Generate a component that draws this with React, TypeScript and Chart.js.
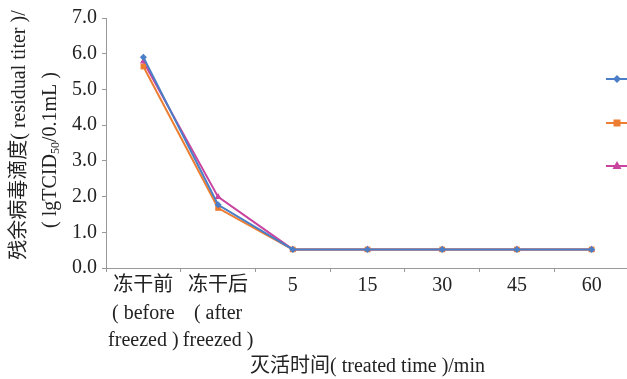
import React, { useEffect, useRef } from "react";
import { Chart, registerables } from "chart.js";

Chart.register(...registerables);

const categories: (string | string[])[] = [
  ["冻干前", "( before", "freezed )"],
  ["冻干后", "( after", "freezed )"],
  "5",
  "15",
  "30",
  "45",
  "60",
];
const seriesBlue = [5.9, 1.77, 0.52, 0.52, 0.52, 0.52, 0.52];
const seriesOrange = [5.64, 1.68, 0.52, 0.52, 0.52, 0.52, 0.52];
const seriesPink = [5.78, 1.99, 0.52, 0.52, 0.52, 0.52, 0.52];
const yTicks = [0, 1, 2, 3, 4, 5, 6, 7];

const BLUE = "#4A7EC6";
const ORANGE = "#ED7D31";
const PINK = "#C9449F";
const SERIF = "'Liberation Serif', 'Noto Sans CJK SC', serif";
const FS = 20;

const yTitlePlugin = {
  id: "yTitle",
  afterDraw(chart: any) {
    const ctx = chart.ctx;
    const ca = chart.chartArea;
    const midY = (ca.top + ca.bottom) / 2;
    ctx.save();
    ctx.fillStyle = "#222";
    ctx.textBaseline = "middle";
    // line 1
    ctx.save();
    ctx.translate(20, midY - 8);
    ctx.rotate(-Math.PI / 2);
    ctx.font = `${FS}px ${SERIF}`;
    ctx.textAlign = "center";
    ctx.fillText("残余病毒滴度( residual titer )/", 0, 0);
    ctx.restore();
    // line 2 with subscript
    ctx.save();
    ctx.translate(51, midY + 7);
    ctx.rotate(-Math.PI / 2);
    ctx.textAlign = "left";
    const a = "( lgTCID";
    const sub = "50";
    const b = "/0.1mL )";
    ctx.font = `${FS}px ${SERIF}`;
    const wa = ctx.measureText(a).width;
    const wb = ctx.measureText(b).width;
    ctx.font = `12px ${SERIF}`;
    const ws = ctx.measureText(sub).width;
    const total = wa + ws + wb;
    let x = -total / 2;
    ctx.font = `${FS}px ${SERIF}`;
    ctx.fillText(a, x, 0);
    x += wa;
    ctx.font = `12px ${SERIF}`;
    ctx.fillText(sub, x, 5);
    x += ws;
    ctx.font = `${FS}px ${SERIF}`;
    ctx.fillText(b, x, 0);
    ctx.restore();
    ctx.restore();
  },
};

const legendPlugin = {
  id: "sideLegend",
  afterDraw(chart: any) {
    const ctx = chart.ctx;
    const ca = chart.chartArea;
    const cx = ca.right - 12;
    const ys = [ca.top + 61, ca.top + 105, ca.top + 148];
    chart.data.datasets.forEach((ds: any, i: number) => {
      const y = ys[i];
      ctx.save();
      ctx.strokeStyle = ds.borderColor;
      ctx.lineWidth = 2;
      ctx.beginPath();
      ctx.moveTo(cx - 11, y);
      ctx.lineTo(cx + 12, y);
      ctx.stroke();
      ctx.fillStyle = ds.backgroundColor;
      ctx.beginPath();
      if (ds.pointStyle === "rectRot") {
        const r = 4;
        ctx.moveTo(cx, y - r);
        ctx.lineTo(cx + r, y);
        ctx.lineTo(cx, y + r);
        ctx.lineTo(cx - r, y);
        ctx.closePath();
      } else if (ds.pointStyle === "rect") {
        ctx.rect(cx - 3.5, y - 3.5, 7, 7);
      } else {
        ctx.moveTo(cx, y - 5);
        ctx.lineTo(cx + 4.5, y + 3);
        ctx.lineTo(cx - 4.5, y + 3);
        ctx.closePath();
      }
      ctx.fill();
      ctx.restore();
    });
  },
};

export default function App() {
  const ref = useRef<HTMLCanvasElement>(null);
  useEffect(() => {
    if (!ref.current) return;
    const chart = new Chart(ref.current, {
      type: "line",
      data: {
        labels: categories as any,
        datasets: [
          {
            label: "1",
            data: seriesBlue,
            borderColor: BLUE,
            backgroundColor: BLUE,
            borderWidth: 2,
            pointStyle: "rectRot",
            pointRadius: 3.5,
            pointBorderWidth: 0,
            tension: 0,
          },
          {
            label: "2",
            data: seriesOrange,
            borderColor: ORANGE,
            backgroundColor: ORANGE,
            borderWidth: 2,
            pointStyle: "rect",
            pointRadius: 4,
            pointBorderWidth: 0,
            tension: 0,
          },
          {
            label: "3",
            data: seriesPink,
            borderColor: PINK,
            backgroundColor: PINK,
            borderWidth: 2,
            pointStyle: "triangle",
            pointRadius: 4,
            pointBorderWidth: 0,
            tension: 0,
          },
        ],
      },
      options: {
        animation: false,
        responsive: false,
        maintainAspectRatio: false,
        layout: { padding: { left: 0, top: 18, right: 71, bottom: 0 } },
        plugins: {
          legend: { display: false },
          tooltip: { enabled: false },
        },
        scales: {
          x: {
            offset: true,
            afterFit: (s: any) => {
              s.height = 111;
            },
            grid: {
              drawOnChartArea: false,
              drawTicks: true,
              tickLength: 4,
              color: "#999",
              offset: true,
            },
            border: { color: "#999", width: 1 },
            ticks: {
              color: "#222",
              padding: 0,
              maxRotation: 0,
              autoSkip: false,
              font: { family: SERIF, size: FS, lineHeight: 1.375 },
            },
            title: {
              display: true,
              text: "灭活时间( treated time )/min",
              color: "#222",
              font: { family: SERIF, size: FS },
              padding: { top: 0, bottom: 0 },
            },
          },
          y: {
            min: 0,
            max: 7,
            afterFit: (s: any) => {
              s.width = 106;
            },
            afterBuildTicks: (s: any) => {
              s.ticks = yTicks.map((v) => ({ value: v }));
            },
            grid: {
              drawOnChartArea: false,
              drawTicks: true,
              tickLength: 4,
              color: "#999",
            },
            border: { color: "#999", width: 1 },
            ticks: {
              color: "#222",
              padding: 5,
              font: { family: SERIF, size: FS },
              callback: (v: any) => Number(v).toFixed(1),
            },
          },
        },
      },
      plugins: [yTitlePlugin, legendPlugin],
    });
    return () => chart.destroy();
  }, []);
  return (
    <div
      style={{
        position: "fixed",
        left: 0,
        top: 0,
        width: 627,
        height: 379,
        overflow: "hidden",
        background: "#fff",
      }}
    >
      <canvas
        ref={ref}
        width={700}
        height={379}
        style={{ display: "block", width: 700, height: 379 }}
      />
    </div>
  );
}
